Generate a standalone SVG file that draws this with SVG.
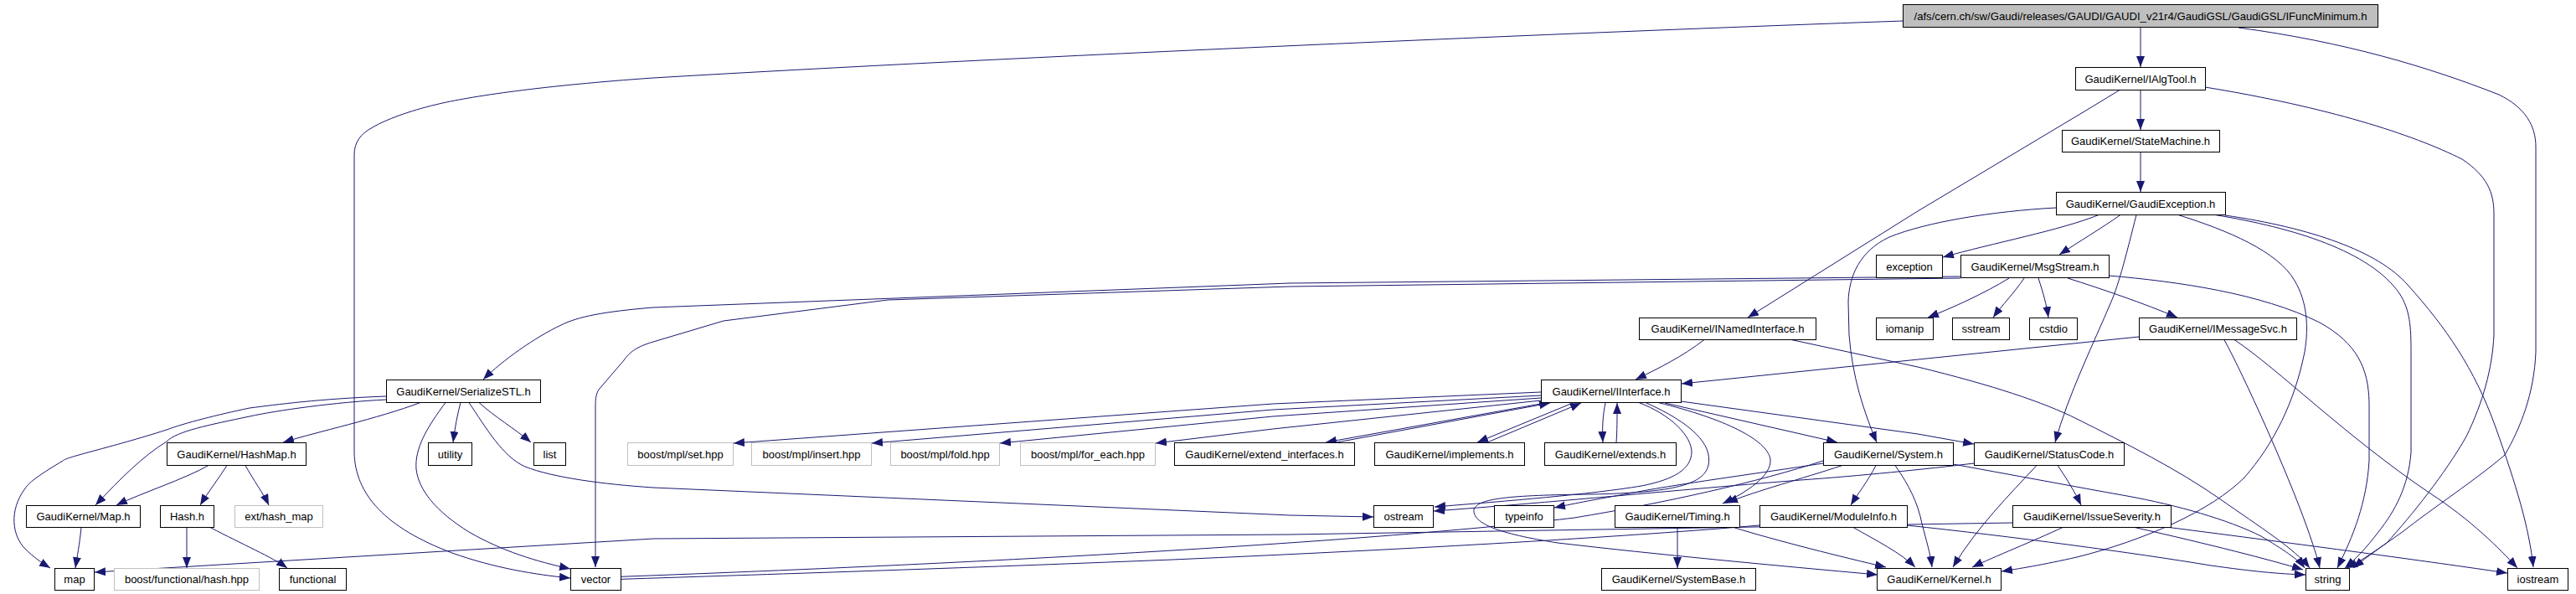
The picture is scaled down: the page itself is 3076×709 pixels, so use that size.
<svg xmlns="http://www.w3.org/2000/svg" width="3076" height="709" viewBox="0 0 3076 709">
<style>
.n rect{fill:#fff;stroke:#000;stroke-width:1}
.g rect{fill:#fff;stroke:#bfbfbf;stroke-width:1}
.m rect{fill:#bfbfbf;stroke:#000;stroke-width:1}
text{font-family:"Liberation Sans",Arial,sans-serif;font-size:13px;fill:#000;text-anchor:middle}
#edges path{fill:none;stroke:#191970;stroke-width:1;marker-end:url(#a)}
</style>
<defs>
<marker id="a" markerUnits="userSpaceOnUse" markerWidth="14" markerHeight="11" refX="13" refY="5" orient="auto"><path d="M0,0L13,5L0,10z" fill="#191970"/></marker>
</defs>
<rect width="3076" height="709" fill="#fff"/>
<g id="edges">
<path d="M2556,32.5 L2556,80"/>
<path d="M2272,25 C1900,38 1200,68 780,93 C650,102 560,115 520,125 C490,132 460,143 445,152 C430,160 423,170 423,185 L423,540 C424,590 460,630 540,660 C590,678 640,686 681,690"/>
<path d="M2673,33 C2800,50 2900,80 2984,113 C3015,128 3028,150 3028,175 L3028,420 C3026,470 3010,510 2991,543 C2960,570 2900,610 2870,634 C2840,655 2822,668 2810,678"/>
<path d="M2556,107.5 L2556,155"/>
<path d="M2633,104 C2780,128 2880,160 2940,190 C2970,210 2978,230 2978,255 L2978,400 C2976,440 2965,480 2945,521 C2920,565 2880,615 2850,648 C2830,662 2815,672 2802,678"/>
<path d="M2531,107.5 L2489,133 L2290,252 L2087,379"/>
<path d="M2556,181.5 L2556,229"/>
<path d="M2506,256.5 C2460,275 2380,290 2320,307"/>
<path d="M2532,256.5 C2510,272 2480,290 2459,304"/>
<path d="M2551,256.5 C2540,300 2530,340 2521,360 C2500,410 2470,470 2454,528"/>
<path d="M2601,256.5 C2660,275 2720,300 2740,335 C2755,360 2757,390 2752,420 C2740,480 2715,530 2680,570 C2640,610 2560,645 2480,665 C2440,674 2410,679 2390,682"/>
<path d="M2645,256.5 C2740,272 2830,300 2865,350 C2878,370 2879,390 2879,420 L2879,540 C2876,580 2860,610 2840,635 C2825,655 2812,668 2800,678"/>
<path d="M2657,257 C2760,272 2840,300 2875,340 C2920,390 2955,440 2980,510 C3005,580 3020,630 3025,677"/>
<path d="M2455,248 C2380,252 2300,265 2256,283 C2220,300 2208,330 2207,360 L2208,400 C2212,450 2225,490 2241,528"/>
<path d="M2399,332 C2370,350 2330,368 2302,379"/>
<path d="M2417,332 C2405,350 2390,365 2380,379"/>
<path d="M2434,332 C2440,350 2444,365 2446,379"/>
<path d="M2469,332 C2510,345 2560,362 2600,379"/>
<path d="M2518,329 C2600,336 2700,350 2770,385 C2815,410 2828,440 2829,480 L2829,550 C2826,600 2810,640 2791,678"/>
<path d="M2341,330 L1540,338 L780,367 C720,372 690,378 670,388 C640,402 600,430 577,453"/>
<path d="M2341,332 L1540,342 L1060,358 L864,383 L780,408 C760,414 752,420 745,430 L715,465 C712,470 711,475 711,485 L711,677"/>
<path d="M2554,402 L2008,458"/>
<path d="M2656,405.5 C2680,450 2730,560 2755,630 C2762,650 2767,665 2770,678"/>
<path d="M2668,405.5 C2720,440 2800,520 2902,589 C2950,620 2985,655 3006,678"/>
<path d="M2035,405.5 C2010,425 1980,440 1953,453"/>
<path d="M2139,405.5 L2290,438 C2380,460 2440,480 2480,500 C2540,530 2600,560 2650,595 C2700,630 2740,655 2758,678"/>
<path d="M1840,468 L1520,482 L876,529"/>
<path d="M1840,472 L1520,489 L1041,529"/>
<path d="M1840,475 L1520,497 L1194,529"/>
<path d="M1840,478 L1520,512 L1380,529"/>
<path d="M1845,481 L1583,528"/>
<path d="M1596,528 L1851,481"/>
<path d="M1878,481 L1764,528"/>
<path d="M1776,528 L1888,481"/>
<path d="M1917,481 C1914,495 1913,510 1914,528"/>
<path d="M1930,528 C1931,515 1931,500 1931,481"/>
<path d="M1957,480.5 C1995,495 2020,520 2020,540 C2019,560 2000,572 1960,580 C1900,590 1800,598 1713,605"/>
<path d="M1965,480.5 C2020,505 2045,530 2040,555 C2035,578 2000,588 1900,590 C1800,591 1765,595 1760,608 C1758,625 1790,637 1860,648 C1980,662 2120,675 2242,686"/>
<path d="M1980,480.5 C2060,500 2110,525 2114,548 C2116,568 2085,588 2057,601"/>
<path d="M1988,481 L2194,528"/>
<path d="M2007,479 L2290,518 L2357,530"/>
<path d="M2200,555.5 C2150,572 2100,585 2062,600"/>
<path d="M2240,555.5 C2230,575 2218,590 2210,603"/>
<path d="M2263,555.5 C2280,580 2290,600 2295,625 C2300,645 2305,660 2307,677"/>
<path d="M2332,554 C2420,570 2500,585 2540,592 C2600,603 2660,620 2700,640 C2725,655 2745,668 2752,678"/>
<path d="M2177,553 C2100,565 2000,578 1940,590 C1900,597 1875,602 1856,606"/>
<path d="M2177,550 C2100,575 1990,600 1880,618 C1700,640 1300,668 722,689"/>
<path d="M2101,627 C1950,640 1700,655 1400,668 C1100,680 900,686 722,692"/>
<path d="M2213,629.5 C2240,645 2270,660 2287,677"/>
<path d="M2277,627 C2400,640 2550,660 2640,675 C2690,682 2720,685 2753,686"/>
<path d="M2003,629.5 L2003,678"/>
<path d="M2070,629.5 C2120,645 2200,665 2252,677"/>
<path d="M2357,553 C2300,560 2220,568 2150,573 C2000,585 1850,600 1712,610"/>
<path d="M2432,555.5 C2400,590 2360,630 2332,677"/>
<path d="M2457,555.5 C2467,570 2478,588 2485,603"/>
<path d="M2463,629.5 C2430,645 2380,665 2355,677"/>
<path d="M2403,624 L1540,638 L780,643 L113,683"/>
<path d="M2549,629.5 C2640,650 2710,668 2750,680"/>
<path d="M2590,629.5 C2750,650 2900,670 2994,684"/>
<path d="M502,480.5 C450,500 380,515 338,528"/>
<path d="M461,477 C400,480 330,490 298,497 C250,507 210,515 199,527 C170,545 145,570 114,603"/>
<path d="M461,473 C380,476 330,483 298,487 C260,495 220,505 199,513 C130,535 80,545 75,550 C50,565 35,575 30,583 C10,610 15,640 30,655 C40,665 50,672 60,678"/>
<path d="M550,480.5 C546,495 543,512 541,528"/>
<path d="M572,480.5 C590,497 615,512 634,528"/>
<path d="M532,480.5 C510,510 495,535 497,560 C500,585 520,610 560,635 C600,658 640,670 681,679"/>
<path d="M560,480.5 C580,510 600,545 627,557 C660,570 720,578 780,582 L1540,615 L1640,617"/>
<path d="M249,555.5 C220,572 170,588 139,603"/>
<path d="M271,555.5 C262,570 248,588 239,603"/>
<path d="M293,555.5 C302,572 315,590 321,603"/>
<path d="M97,629.5 C95,650 92,665 90,678"/>
<path d="M223,629.5 L223,678"/>
<path d="M251,629.5 C290,650 325,665 343,678"/>
</g>
<g id="n_main" class="m"><rect x="2272.5" y="5.5" width="567" height="27"/><text x="2556" y="23.5" textLength="541" lengthAdjust="spacingAndGlyphs">/afs/cern.ch/sw/Gaudi/releases/GAUDI/GAUDI_v21r4/GaudiGSL/GaudiGSL/IFuncMinimum.h</text></g>
<g id="n_ialgtool" class="n"><rect x="2478.5" y="80.5" width="155" height="27"/><text x="2556" y="98.5">GaudiKernel/IAlgTool.h</text></g>
<g id="n_statemachine" class="n"><rect x="2462.5" y="155.5" width="188" height="26"/><text x="2556" y="173">GaudiKernel/StateMachine.h</text></g>
<g id="n_gaudiexception" class="n"><rect x="2455.5" y="229.5" width="202" height="27"/><text x="2556" y="247.5">GaudiKernel/GaudiException.h</text></g>
<g id="n_exception" class="n"><rect x="2240.5" y="304.5" width="79" height="27"/><text x="2280" y="322.5">exception</text></g>
<g id="n_msgstream" class="n"><rect x="2341.5" y="304.5" width="177" height="27"/><text x="2430" y="322.5">GaudiKernel/MsgStream.h</text></g>
<g id="n_iomanip" class="n"><rect x="2240.5" y="379.5" width="68" height="26"/><text x="2274.5" y="397">iomanip</text></g>
<g id="n_sstream" class="n"><rect x="2331.5" y="379.5" width="68" height="26"/><text x="2365.5" y="397">sstream</text></g>
<g id="n_cstdio" class="n"><rect x="2423.5" y="379.5" width="57" height="26"/><text x="2452" y="397">cstdio</text></g>
<g id="n_imessagesvc" class="n"><rect x="2554.5" y="379.5" width="188" height="26"/><text x="2648.5" y="397">GaudiKernel/IMessageSvc.h</text></g>
<g id="n_inamedinterface" class="n"><rect x="1957.5" y="379.5" width="211" height="26"/><text x="2063" y="397">GaudiKernel/INamedInterface.h</text></g>
<g id="n_serializestl" class="n"><rect x="461.5" y="453.5" width="184" height="27"/><text x="553.5" y="471.5">GaudiKernel/SerializeSTL.h</text></g>
<g id="n_iinterface" class="n"><rect x="1840.5" y="453.5" width="167" height="27"/><text x="1924" y="471.5">GaudiKernel/IInterface.h</text></g>
<g id="n_mplset" class="g"><rect x="749.5" y="528.5" width="126" height="27"/><text x="812.5" y="546.5">boost/mpl/set.hpp</text></g>
<g id="n_mplinsert" class="g"><rect x="897.5" y="528.5" width="143" height="27"/><text x="969" y="546.5">boost/mpl/insert.hpp</text></g>
<g id="n_mplfold" class="g"><rect x="1063.5" y="528.5" width="130" height="27"/><text x="1128.5" y="546.5">boost/mpl/fold.hpp</text></g>
<g id="n_mplforeach" class="g"><rect x="1218.5" y="528.5" width="161" height="27"/><text x="1299" y="546.5">boost/mpl/for_each.hpp</text></g>
<g id="n_extendinterfaces" class="n"><rect x="1402.5" y="528.5" width="215" height="27"/><text x="1510" y="546.5">GaudiKernel/extend_interfaces.h</text></g>
<g id="n_implements" class="n"><rect x="1641.5" y="528.5" width="179" height="27"/><text x="1731" y="546.5">GaudiKernel/implements.h</text></g>
<g id="n_extends" class="n"><rect x="1844.5" y="528.5" width="157" height="27"/><text x="1923" y="546.5">GaudiKernel/extends.h</text></g>
<g id="n_system" class="n"><rect x="2177.5" y="528.5" width="155" height="27"/><text x="2255" y="546.5">GaudiKernel/System.h</text></g>
<g id="n_statuscode" class="n"><rect x="2357.5" y="528.5" width="179" height="27"/><text x="2447" y="546.5">GaudiKernel/StatusCode.h</text></g>
<g id="n_hashmap" class="n"><rect x="199.5" y="528.5" width="166" height="27"/><text x="282.5" y="546.5">GaudiKernel/HashMap.h</text></g>
<g id="n_utility" class="n"><rect x="511.5" y="528.5" width="52" height="27"/><text x="537.5" y="546.5">utility</text></g>
<g id="n_list" class="n"><rect x="637.5" y="528.5" width="38" height="27"/><text x="656.5" y="546.5">list</text></g>
<g id="n_map_h" class="n"><rect x="31.5" y="603.5" width="136" height="26"/><text x="99.5" y="621">GaudiKernel/Map.h</text></g>
<g id="n_hash" class="n"><rect x="191.5" y="603.5" width="64" height="26"/><text x="223.5" y="621">Hash.h</text></g>
<g id="n_exthashmap" class="g"><rect x="280.5" y="603.5" width="105" height="26"/><text x="333" y="621">ext/hash_map</text></g>
<g id="n_ostream" class="n"><rect x="1640.5" y="603.5" width="71" height="26"/><text x="1676" y="621">ostream</text></g>
<g id="n_typeinfo" class="n"><rect x="1784.5" y="603.5" width="71" height="26"/><text x="1820" y="621">typeinfo</text></g>
<g id="n_timing" class="n"><rect x="1928.5" y="603.5" width="149" height="26"/><text x="2003" y="621">GaudiKernel/Timing.h</text></g>
<g id="n_moduleinfo" class="n"><rect x="2101.5" y="603.5" width="176" height="26"/><text x="2189.5" y="621">GaudiKernel/ModuleInfo.h</text></g>
<g id="n_issueseverity" class="n"><rect x="2403.5" y="603.5" width="189" height="26"/><text x="2498" y="621">GaudiKernel/IssueSeverity.h</text></g>
<g id="n_map" class="n"><rect x="65.5" y="678.5" width="47" height="26"/><text x="89" y="696">map</text></g>
<g id="n_bfhash" class="g"><rect x="136.5" y="678.5" width="173" height="26"/><text x="223" y="696">boost/functional/hash.hpp</text></g>
<g id="n_functional" class="n"><rect x="333.5" y="678.5" width="80" height="26"/><text x="373.5" y="696">functional</text></g>
<g id="n_vector" class="n"><rect x="681.5" y="678.5" width="60" height="26"/><text x="711.5" y="696">vector</text></g>
<g id="n_systembase" class="n"><rect x="1912.5" y="678.5" width="184" height="26"/><text x="2004.5" y="696">GaudiKernel/SystemBase.h</text></g>
<g id="n_kernel" class="n"><rect x="2241.5" y="678.5" width="148" height="26"/><text x="2315.5" y="696">GaudiKernel/Kernel.h</text></g>
<g id="n_string" class="n"><rect x="2753.5" y="678.5" width="52" height="26"/><text x="2779.5" y="696">string</text></g>
<g id="n_iostream" class="n"><rect x="2994.5" y="678.5" width="72" height="26"/><text x="3030.5" y="696">iostream</text></g>
</svg>
